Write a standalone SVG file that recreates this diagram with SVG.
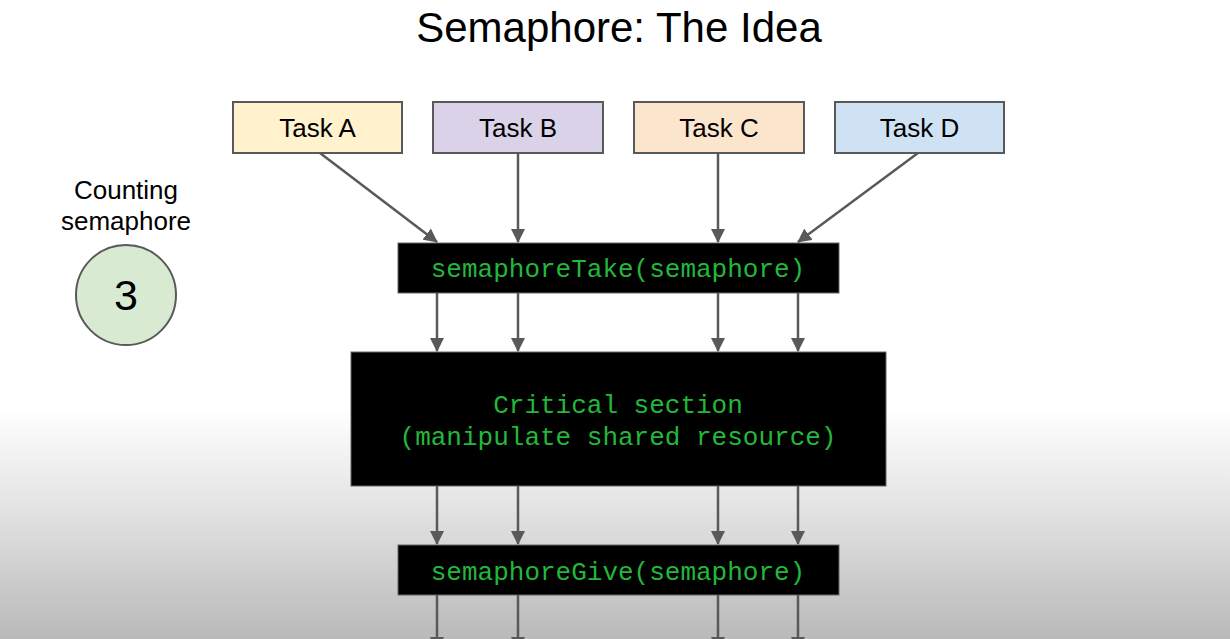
<svg xmlns="http://www.w3.org/2000/svg" width="1230" height="639" viewBox="0 0 1230 639">
<defs>
<linearGradient id="bg" x1="0" y1="0" x2="0" y2="1">
<stop offset="0" stop-color="#ffffff"/>
<stop offset="0.64" stop-color="#ffffff"/>
<stop offset="0.8" stop-color="#e2e2e2"/>
<stop offset="1" stop-color="#b9b9b9"/>
</linearGradient>
<marker id="ah" markerWidth="14" markerHeight="14" refX="13" refY="7" orient="auto" markerUnits="userSpaceOnUse" viewBox="0 0 14 14">
<path d="M0,0 L14,7 L0,14 Z" fill="#595959"/>
</marker>
<style>
.sans{font-family:"Liberation Sans",Arial,sans-serif;fill:#000}
.task{stroke:#595959;stroke-width:2}
.code{fill:#000;stroke:#666;stroke-width:1}
.mono{font-family:"Courier New","Liberation Mono",monospace;fill:#22b83b;font-size:26px}
.conn line{stroke:#595959;stroke-width:2.5;marker-end:url(#ah)}
</style>
</defs>
<rect x="0" y="0" width="1230" height="639" fill="url(#bg)"/>
<text class="sans" x="619" y="42" font-size="42" text-anchor="middle">Semaphore: The Idea</text>

<g id="taskA"><rect class="task" x="233" y="102" width="169" height="51" fill="#fff2cc"/><text class="sans" x="317.5" y="137" font-size="26" text-anchor="middle">Task A</text></g>
<g id="taskB"><rect class="task" x="433" y="102" width="170" height="51" fill="#d9d2e9"/><text class="sans" x="518" y="137" font-size="26" text-anchor="middle">Task B</text></g>
<g id="taskC"><rect class="task" x="634" y="102" width="170" height="51" fill="#fce5cd"/><text class="sans" x="719" y="137" font-size="26" text-anchor="middle">Task C</text></g>
<g id="taskD"><rect class="task" x="835" y="102" width="169" height="51" fill="#cfe2f3"/><text class="sans" x="919.5" y="137" font-size="26" text-anchor="middle">Task D</text></g>

<g id="counter">
<text class="sans" x="126" y="199" font-size="26" text-anchor="middle">Counting</text>
<text class="sans" x="126" y="230" font-size="26" text-anchor="middle">semaphore</text>
<circle cx="126" cy="295" r="50" fill="#d9ead3" stroke="#595959" stroke-width="2"/>
<text class="sans" x="126" y="310" font-size="43" text-anchor="middle">3</text>
</g>

<g id="take"><rect class="code" x="398" y="243" width="441" height="50"/><text class="mono" x="618" y="277" text-anchor="middle">semaphoreTake(semaphore)</text></g>
<g id="critical"><rect class="code" x="351" y="352" width="535" height="134"/><text class="mono" x="618" y="413" text-anchor="middle">Critical section</text><text class="mono" x="618" y="445" text-anchor="middle">(manipulate shared resource)</text></g>
<g id="give"><rect class="code" x="398" y="545" width="441" height="50"/><text class="mono" x="618" y="580" text-anchor="middle">semaphoreGive(semaphore)</text></g>

<g class="conn" id="connectors">
<line x1="320" y1="153" x2="437" y2="242"/>
<line x1="518" y1="153" x2="518" y2="242"/>
<line x1="718" y1="153" x2="718" y2="242"/>
<line x1="918" y1="153" x2="798" y2="242"/>
<line x1="437" y1="293" x2="437" y2="351"/>
<line x1="518" y1="293" x2="518" y2="351"/>
<line x1="718" y1="293" x2="718" y2="351"/>
<line x1="798" y1="293" x2="798" y2="351"/>
<line x1="437" y1="486" x2="437" y2="544"/>
<line x1="518" y1="486" x2="518" y2="544"/>
<line x1="718" y1="486" x2="718" y2="544"/>
<line x1="798" y1="486" x2="798" y2="544"/>
<line x1="437" y1="595" x2="437" y2="650"/>
<line x1="518" y1="595" x2="518" y2="650"/>
<line x1="718" y1="595" x2="718" y2="650"/>
<line x1="798" y1="595" x2="798" y2="650"/>
</g>
</svg>
